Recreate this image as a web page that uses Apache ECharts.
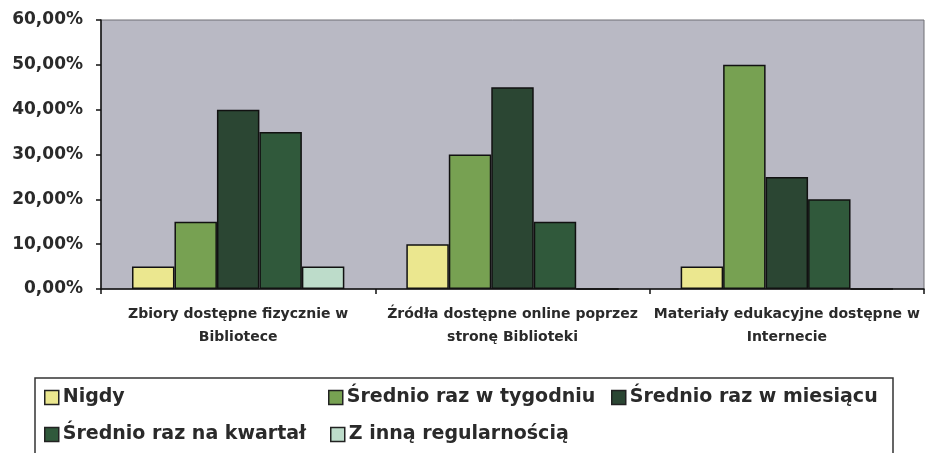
<!DOCTYPE html>
<html>
<head>
<meta charset="utf-8">
<script src="https://cdn.jsdelivr.net/npm/echarts@6/dist/echarts.min.js"></script>
<style>html,body{margin:0;padding:0;background:#fff;}#c{width:926px;height:453px;}</style>
</head>
<body>
<div id="c"></div>
<script>
const categories = [
  'Zbiory dostępne fizycznie w\nBibliotece',
  'Źródła dostępne online poprzez\nstronę Biblioteki',
  'Materiały edukacyjne dostępne w\nInternecie'
];
const seriesNames = ['Nigdy', 'Średnio raz w tygodniu', 'Średnio raz w miesiącu', 'Średnio raz na kwartał', 'Z inną regularnością'];
const nigdy = [5, 10, 5];
const tydzien = [15, 30, 50];
const miesiac = [40, 45, 25];
const kwartal = [35, 15, 20];
const inna = [5, 0, 0];
const yTicks = [0, 10, 20, 30, 40, 50, 60];

const colors = ['#ebe78f', '#77a152', '#2b4633', '#30593b', '#bddcca'];
const values = [nigdy, tydzien, miesiac, kwartal, inna];
const font = '"DejaVu Sans", "Liberation Sans", Arial, sans-serif';

const chart = echarts.init(document.getElementById('c'));

const legendPos = [
  {left: 44, top: 388},
  {left: 328, top: 388},
  {left: 611, top: 388},
  {left: 44, top: 425},
  {left: 330, top: 425}
];

chart.setOption({
  animation: false,
  backgroundColor: '#ffffff',
  textStyle: {fontFamily: font},
  grid: {
    left: 101, right: 2, top: 20, bottom: 164,
    show: true, backgroundColor: '#b9b9c4', borderColor: '#6e6e74', borderWidth: 1
  },
  xAxis: {
    type: 'category',
    data: categories,
    axisLine: {lineStyle: {color: '#111', width: 1.5}},
    axisTick: {show: true, length: 5, lineStyle: {color: '#111', width: 1.5}},
    axisLabel: {
      interval: 0, margin: 14, fontFamily: font, fontWeight: 'bold',
      fontSize: 14, color: '#2a2a2a', lineHeight: 23
    },
    splitLine: {show: false}
  },
  yAxis: {
    type: 'value',
    min: yTicks[0], max: yTicks[yTicks.length - 1], interval: 10,
    axisLine: {show: true, lineStyle: {color: '#111', width: 1.5}},
    axisTick: {show: true, length: 5, lineStyle: {color: '#111', width: 1.5}},
    axisLabel: {
      margin: 18, fontFamily: font, fontWeight: 'bold', fontSize: 17, color: '#2a2a2a',
      formatter: v => v.toFixed(2).replace('.', ',') + '%'
    },
    splitLine: {show: false}
  },
  legend: seriesNames.map((n, i) => ({
    data: [n],
    left: legendPos[i].left,
    top: legendPos[i].top,
    padding: 0,
    itemWidth: 14, itemHeight: 14, itemGap: 0,
    icon: 'rect',
    selectedMode: false,
    itemStyle: {borderColor: '#222', borderWidth: 1.5},
    textStyle: {fontFamily: font, fontWeight: 'bold', fontSize: 19, color: '#2a2a2a', padding: [0, 0, 0, -1]}
  })),
  graphic: [{
    type: 'rect',
    shape: {x: 35, y: 378, width: 858, height: 90},
    style: {fill: 'none', stroke: '#333', lineWidth: 1.5},
    silent: true
  }],
  series: seriesNames.map((n, i) => ({
    name: n,
    type: 'bar',
    data: values[i],
    barGap: '0%',
    barCategoryGap: '22.6%',
    itemStyle: {color: colors[i], borderColor: '#111', borderWidth: 1.5}
  }))
});
</script>
</body>
</html>
